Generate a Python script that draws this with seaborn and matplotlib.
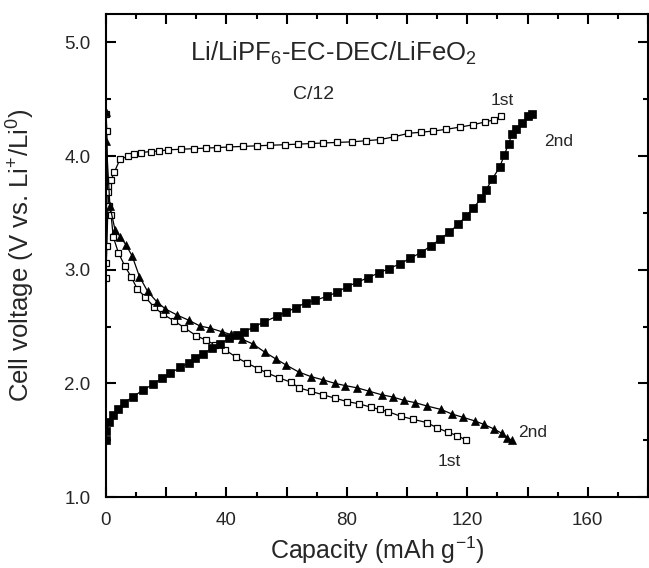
import matplotlib
matplotlib.use("Agg")
import matplotlib.pyplot as plt
from matplotlib.ticker import MultipleLocator, FuncFormatter
import seaborn as sns
import numpy as np

# ---- data ----
charge1_cap = [0, 0.1, 0.3, 0.8, 1.7, 2.8, 4.6, 7.4, 9.4, 11.5, 14.8, 17.7, 20.7, 24.9, 29.1,
               33.2, 37.0, 41.0, 45.5, 50.0, 54.5, 59.5, 63.9, 68.0, 72.0, 76.8, 81.6, 86.4,
               91.0, 95.8, 100.4, 104.7, 108.7, 112.9, 117.6, 121.8, 125.9, 129.0, 131.1]
charge1_v = [2.93, 3.06, 3.21, 3.74, 3.79, 3.86, 3.97, 4.00, 4.02, 4.03, 4.04, 4.045, 4.055,
             4.06, 4.065, 4.07, 4.075, 4.08, 4.085, 4.09, 4.095, 4.10, 4.105, 4.11, 4.115,
             4.12, 4.125, 4.135, 4.145, 4.17, 4.20, 4.21, 4.22, 4.235, 4.255, 4.275, 4.30,
             4.32, 4.35]

dis1_cap = [0, 0.3, 0.5, 1.1, 1.7, 2.4, 4.1, 6.3, 8.3, 10.4, 13.0, 16.0, 18.8, 22.6, 26.0,
            29.9, 33.2, 36.2, 39.6, 43.2, 46.7, 50.5, 53.6, 57.3, 61.4, 64.2, 68.0, 72.0,
            76.0, 80.0, 84.0, 88.0, 91.0, 93.8, 97.9, 101.8, 106.5, 109.9, 113.5, 116.7, 119.6]
dis1_v = [4.37, 4.22, 3.68, 3.56, 3.48, 3.29, 3.15, 3.03, 2.94, 2.83, 2.76, 2.67, 2.61, 2.55,
          2.49, 2.42, 2.38, 2.34, 2.295, 2.23, 2.18, 2.13, 2.09, 2.05, 2.01, 1.96, 1.93, 1.90,
          1.87, 1.84, 1.82, 1.79, 1.77, 1.75, 1.71, 1.685, 1.655, 1.61, 1.57, 1.54, 1.50]

charge2_cap = [0, 0.1, 1.1, 2.2, 4.1, 6.0, 8.9, 12.2, 15.5, 18.5, 21.3, 24.7, 27.5, 29.7,
               32.3, 35.3, 38.0, 41.0, 43.5, 45.7, 49.3, 52.5, 56.7, 59.7, 63.0, 66.4, 69.4,
               73.3, 76.6, 80.0, 83.5, 87.0, 90.5, 94.0, 97.5, 101.0, 104.5, 108.0, 111.0,
               114.0, 117.0, 119.5, 122.0, 124.6, 126.2, 128.3, 130.7, 132.3, 133.7, 134.8,
               136.2, 138.1, 140.0, 141.4]
charge2_v = [1.50, 1.58, 1.66, 1.72, 1.77, 1.83, 1.88, 1.94, 1.99, 2.045, 2.09, 2.14, 2.18,
             2.22, 2.26, 2.31, 2.35, 2.395, 2.425, 2.45, 2.50, 2.54, 2.59, 2.625, 2.665, 2.71,
             2.73, 2.765, 2.80, 2.85, 2.89, 2.93, 2.97, 3.01, 3.05, 3.10, 3.15, 3.21, 3.27,
             3.33, 3.40, 3.47, 3.54, 3.63, 3.70, 3.80, 3.90, 4.01, 4.11, 4.19, 4.24, 4.29,
             4.35, 4.37]

dis2_cap = [0, 0.1, 1.3, 3.0, 4.7, 6.6, 8.7, 11.1, 13.8, 16.8, 19.7, 23.7, 27.5, 31.2, 34.7,
            38.4, 41.4, 45.1, 48.9, 52.7, 56.4, 59.9, 64.0, 68.0, 72.2, 76.0, 79.5, 83.5,
            87.5, 91.5, 95.2, 99.0, 102.7, 106.7, 111.3, 114.9, 118.7, 122.4, 125.4, 128.7,
            131.5, 133.3, 134.8]
dis2_v = [4.39, 4.13, 3.56, 3.35, 3.29, 3.22, 3.12, 2.94, 2.81, 2.72, 2.655, 2.60, 2.555,
          2.505, 2.485, 2.455, 2.43, 2.39, 2.345, 2.275, 2.215, 2.16, 2.10, 2.06, 2.03, 2.00,
          1.98, 1.96, 1.93, 1.90, 1.88, 1.85, 1.83, 1.80, 1.77, 1.73, 1.70, 1.67, 1.64, 1.60,
          1.56, 1.52, 1.50]

x_ticks = [0, 40, 80, 120, 160]
y_ticks = [1.0, 2.0, 3.0, 4.0, 5.0]

# ---- style ----
sns.set_style("ticks")
plt.rcParams["font.family"] = ["Liberation Sans", "DejaVu Sans"]
plt.rcParams["mathtext.fontset"] = "custom"
plt.rcParams["mathtext.rm"] = "Liberation Sans"
plt.rcParams["mathtext.it"] = "Liberation Sans:italic"
plt.rcParams["mathtext.bf"] = "Liberation Sans:bold"

fig = plt.figure(figsize=(6.49, 5.68), dpi=100)
ax = fig.add_axes([106 / 649, 1 - 497 / 568, 542 / 649, 483 / 568])

lw = 0.9
ms = 5
sns.lineplot(x=charge1_cap, y=charge1_v, ax=ax, sort=False, estimator=None, color="black",
             lw=lw, marker="s", markersize=ms, markerfacecolor="white",
             markeredgecolor="black", markeredgewidth=0.9)
sns.lineplot(x=dis1_cap, y=dis1_v, ax=ax, sort=False, estimator=None, color="black",
             lw=lw, marker="s", markersize=ms, markerfacecolor="white",
             markeredgecolor="black", markeredgewidth=0.9)
sns.lineplot(x=charge2_cap, y=charge2_v, ax=ax, sort=False, estimator=None, color="black",
             lw=lw, marker="s", markersize=ms + 0.5, markerfacecolor="black",
             markeredgecolor="black", markeredgewidth=0.5)
sns.lineplot(x=dis2_cap, y=dis2_v, ax=ax, sort=False, estimator=None, color="black",
             lw=lw, marker="^", markersize=ms + 1, markerfacecolor="black",
             markeredgecolor="black", markeredgewidth=0.5)

ax.set_xlim(0, 180)
ax.set_ylim(1.0, 5.25)

ax.xaxis.set_major_locator(MultipleLocator(20))
ax.xaxis.set_minor_locator(MultipleLocator(10))
ax.yaxis.set_major_locator(MultipleLocator(1.0))
ax.yaxis.set_minor_locator(MultipleLocator(0.5))
ax.xaxis.set_major_formatter(FuncFormatter(lambda v, p: f"{int(round(v))}" if int(round(v)) in x_ticks else ""))
ax.yaxis.set_major_formatter(FuncFormatter(lambda v, p: f"{v:.1f}" if round(v, 1) in y_ticks else ""))

for s in ax.spines.values():
    s.set_visible(True)
    s.set_linewidth(1.5)
    s.set_color("black")

ax.tick_params(which="both", direction="in", top=True, right=True, color="black", width=1.5)
ax.tick_params(which="major", length=7)
ax.tick_params(which="minor", length=3.5)
ax.tick_params(axis="x", which="major", labelsize=13.5, pad=10.5)
ax.tick_params(axis="y", which="major", labelsize=13.5, pad=11)

ax.set_xlabel(r"Capacity (mAh g$^{-1}$)", fontsize=18)
ax.set_ylabel(r"Cell voltage (V vs. Li$^{+}$/Li$^{0}$)", fontsize=18.5)
ax.xaxis.set_label_coords(0.5, -0.078)
ax.yaxis.set_label_coords(-0.127, 0.5)

ax.text(28, 4.835, r"Li/LiPF$_6$-EC-DEC/LiFeO$_2$", fontsize=18.5, ha="left", va="baseline")
ax.text(62, 4.50, "C/12", fontsize=14, ha="left", va="baseline")
ax.text(127.6, 4.45, "1st", fontsize=12.5, ha="left", va="baseline")
ax.text(145.5, 4.086, "2nd", fontsize=12.5, ha="left", va="baseline")
ax.text(136.9, 1.53, "2nd", fontsize=12.5, ha="left", va="baseline")
ax.text(110, 1.273, "1st", fontsize=12.5, ha="left", va="baseline")

fig.savefig("out.png", dpi=100)
